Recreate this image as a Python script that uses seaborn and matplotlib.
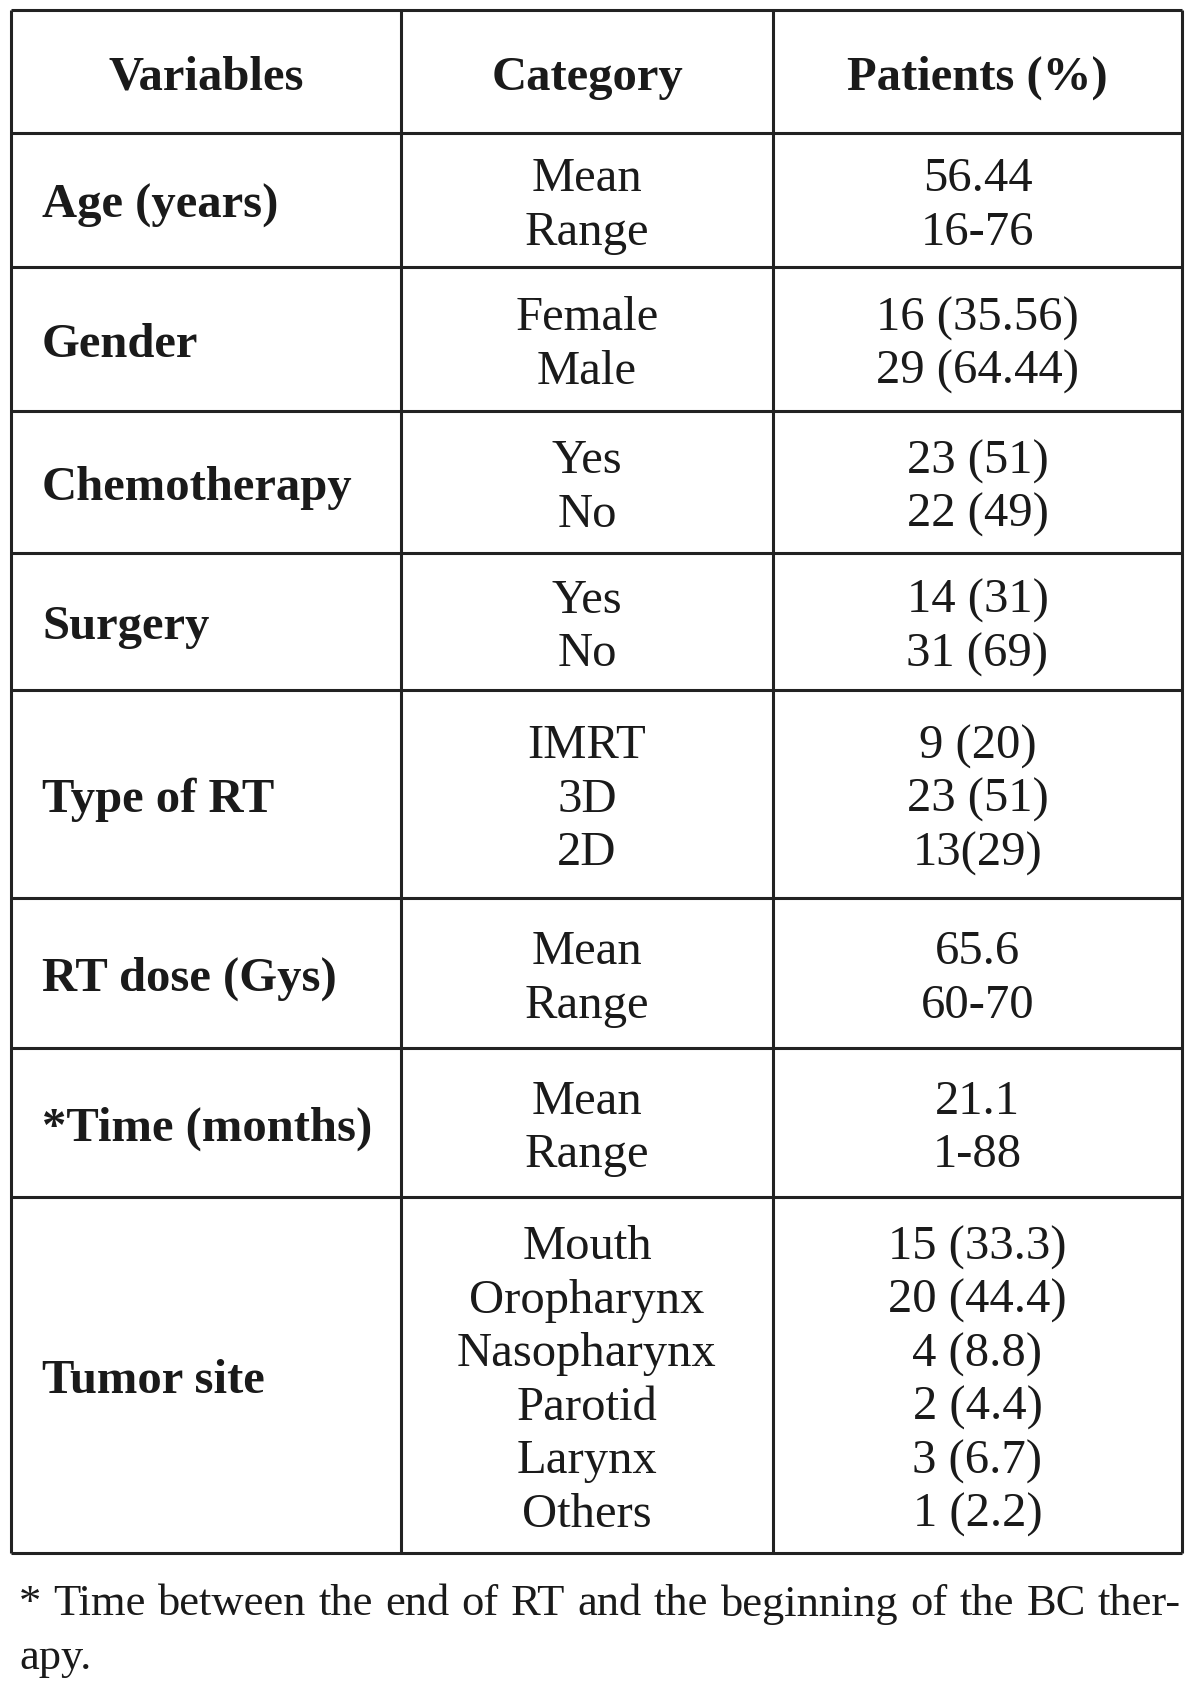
import matplotlib
matplotlib.use("Agg")
import matplotlib.pyplot as plt
import seaborn as sns

# Table content
header = ["Variables", "Category", "Patients (%)"]
variables = ["Age (years)", "Gender", "Chemotherapy", "Surgery", "Type of RT",
             "RT dose (Gys)", "*Time (months)", "Tumor site"]
categories = [
    ["Mean", "Range"],
    ["Female", "Male"],
    ["Yes", "No"],
    ["Yes", "No"],
    ["IMRT", "3D", "2D"],
    ["Mean", "Range"],
    ["Mean", "Range"],
    ["Mouth", "Oropharynx", "Nasopharynx", "Parotid", "Larynx", "Others"],
]
patients = [
    ["56.44", "16-76"],
    ["16 (35.56)", "29 (64.44)"],
    ["23 (51)", "22 (49)"],
    ["14 (31)", "31 (69)"],
    ["9 (20)", "23 (51)", "13(29)"],
    ["65.6", "60-70"],
    ["21.1", "1-88"],
    ["15 (33.3)", "20 (44.4)", "4 (8.8)", "2 (4.4)", "3 (6.7)", "1 (2.2)"],
]
footnote = "* Time between the end of RT and the beginning of the BC ther-"
footnote_2 = "apy."

# layout (pixel coordinates of the grid)
W, H = 1200, 1683
col_edges = [11, 401, 773, 1182]
row_edges = [11, 134, 268, 412, 554, 691, 899, 1049, 1198, 1554]
line_gap = 53.5

sns.set_theme(style="white")
plt.rcParams["font.family"] = ["Liberation Serif", "DejaVu Serif"]

fig = plt.figure(figsize=(W / 100, H / 100), dpi=100)
ax = fig.add_axes([0, 0, 1, 1])
ax.set_xlim(0, W)
ax.set_ylim(H, 0)
ax.axis("off")

line_kw = dict(color="#222222", lw=2.2)
ax.hlines(row_edges, col_edges[0], col_edges[-1], **line_kw)
ax.vlines(col_edges, row_edges[0], row_edges[-1], **line_kw)

fs = 35
txt_color = "#1a1a1a"

# header
hy = (row_edges[0] + row_edges[1]) / 2
for j, h in enumerate(header):
    cx = (col_edges[j] + col_edges[j + 1]) / 2
    ax.text(cx, hy, h, ha="center", va="center_baseline", fontsize=fs,
            fontweight="bold", color=txt_color)

# body rows
for i, var in enumerate(variables):
    top, bot = row_edges[i + 1], row_edges[i + 2]
    cy = (top + bot) / 2
    ax.text(col_edges[0] + 31, cy, var, ha="left", va="center_baseline",
            fontsize=fs, fontweight="bold", color=txt_color)
    n = len(categories[i])
    for k in range(n):
        y = cy + (k - (n - 1) / 2) * line_gap
        ax.text((col_edges[1] + col_edges[2]) / 2, y, categories[i][k],
                ha="center", va="center_baseline", fontsize=fs, color=txt_color)
        ax.text((col_edges[2] + col_edges[3]) / 2, y, patients[i][k],
                ha="center", va="center_baseline", fontsize=fs, color=txt_color)

# footnote, justified first line
fn_fs = 32
renderer = fig.canvas.get_renderer()
words = footnote.split(" ")
x_left, x_right = 19, 1181
objs = []
for w in words:
    objs.append(ax.text(0, 1600, w, ha="left", va="center_baseline",
                        fontsize=fn_fs, color=txt_color))
widths = [o.get_window_extent(renderer).width for o in objs]
gap = (x_right - x_left - sum(widths)) / (len(words) - 1)
x = x_left
for o, wd in zip(objs, widths):
    o.set_x(x)
    x += wd + gap
ax.text(x_left, 1654, footnote_2, ha="left", va="center_baseline",
        fontsize=fn_fs, color=txt_color)

fig.savefig("out.png", dpi=100, facecolor="white")
